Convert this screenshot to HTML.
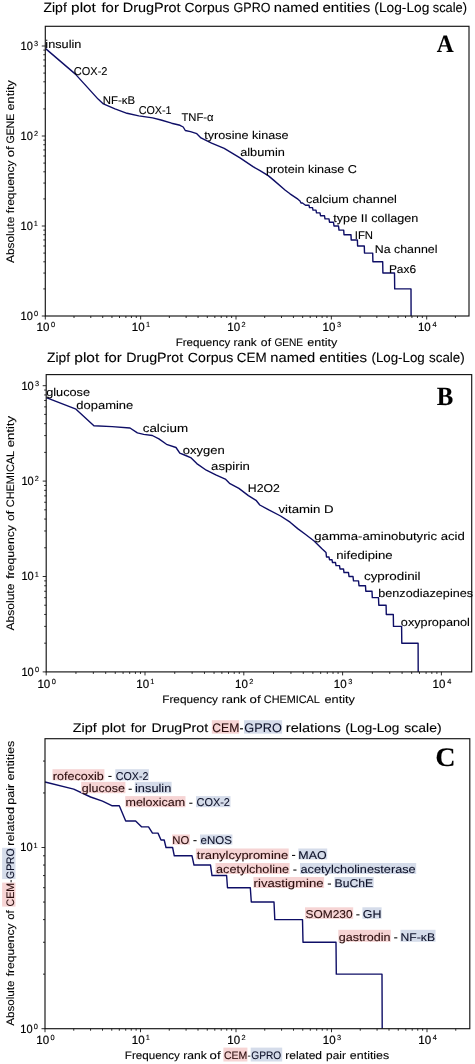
<!DOCTYPE html>
<html><head><meta charset="utf-8"><style>
html,body{margin:0;padding:0;background:#fff;}
body{width:475px;height:1064px;overflow:hidden;font-family:"Liberation Sans", sans-serif;}
svg{display:block;will-change:transform;}
</style></head><body>
<svg width="475" height="1064" viewBox="0 0 475 1064" text-rendering="geometricPrecision" font-family='"Liberation Sans", sans-serif'>
<rect width="475" height="1064" fill="#fff"/>
<text x="43.46" y="12.10" font-size="13.3" textLength="23.32" lengthAdjust="spacingAndGlyphs" fill="#000" stroke="#000" stroke-width="0.1">Zipf</text>
<text x="71.11" y="12.10" font-size="13.3" textLength="24.80" lengthAdjust="spacingAndGlyphs" fill="#000" stroke="#000" stroke-width="0.1">plot</text>
<text x="101.49" y="12.10" font-size="13.3" textLength="17.36" lengthAdjust="spacingAndGlyphs" fill="#000" stroke="#000" stroke-width="0.1">for</text>
<text x="122.82" y="12.10" font-size="13.3" textLength="57.79" lengthAdjust="spacingAndGlyphs" fill="#000" stroke="#000" stroke-width="0.1">DrugProt</text>
<text x="184.49" y="12.10" font-size="13.3" textLength="44.91" lengthAdjust="spacingAndGlyphs" fill="#000" stroke="#000" stroke-width="0.1">Corpus</text>
<text x="233.57" y="12.10" font-size="13.3" textLength="36.83" lengthAdjust="spacingAndGlyphs" fill="#000" stroke="#000" stroke-width="0.1">GPRO</text>
<text x="273.82" y="12.10" font-size="13.3" textLength="45.24" lengthAdjust="spacingAndGlyphs" fill="#000" stroke="#000" stroke-width="0.1">named</text>
<text x="322.46" y="12.10" font-size="13.3" textLength="47.79" lengthAdjust="spacingAndGlyphs" fill="#000" stroke="#000" stroke-width="0.1">entities</text>
<text x="374.35" y="12.10" font-size="13.3" textLength="55.04" lengthAdjust="spacingAndGlyphs" fill="#000" stroke="#000" stroke-width="0.1">(Log-Log</text>
<text x="432.74" y="12.10" font-size="13.3" textLength="34.25" lengthAdjust="spacingAndGlyphs" fill="#000" stroke="#000" stroke-width="0.1">scale)</text>
<path d="M45.30 316.00v3.5 M74.00 316.00v2 M90.79 316.00v2 M102.71 316.00v2 M111.95 316.00v2 M119.50 316.00v2 M125.88 316.00v2 M131.41 316.00v2 M136.29 316.00v2 M140.65 316.00v3.5 M169.35 316.00v2 M186.14 316.00v2 M198.06 316.00v2 M207.30 316.00v2 M214.85 316.00v2 M221.23 316.00v2 M226.76 316.00v2 M231.64 316.00v2 M236.00 316.00v3.5 M264.70 316.00v2 M281.49 316.00v2 M293.41 316.00v2 M302.65 316.00v2 M310.20 316.00v2 M316.58 316.00v2 M322.11 316.00v2 M326.99 316.00v2 M331.35 316.00v3.5 M360.05 316.00v2 M376.84 316.00v2 M388.76 316.00v2 M398.00 316.00v2 M405.55 316.00v2 M411.93 316.00v2 M417.46 316.00v2 M422.34 316.00v2 M426.70 316.00v3.5 M455.40 316.00v2" stroke="#141414" stroke-width="0.9" fill="none"/>
<path d="M45.30 316.00h-3.5 M45.30 288.91h-2 M45.30 273.06h-2 M45.30 261.81h-2 M45.30 253.09h-2 M45.30 245.97h-2 M45.30 239.94h-2 M45.30 234.72h-2 M45.30 230.12h-2 M45.30 226.00h-3.5 M45.30 198.91h-2 M45.30 183.06h-2 M45.30 171.81h-2 M45.30 163.09h-2 M45.30 155.97h-2 M45.30 149.94h-2 M45.30 144.72h-2 M45.30 140.12h-2 M45.30 136.00h-3.5 M45.30 108.91h-2 M45.30 93.06h-2 M45.30 81.81h-2 M45.30 73.09h-2 M45.30 65.97h-2 M45.30 59.94h-2 M45.30 54.72h-2 M45.30 50.12h-2 M45.30 46.00h-3.5" stroke="#141414" stroke-width="0.9" fill="none"/>
<text x="36.52" y="331.20" font-size="11.9" textLength="12.83" lengthAdjust="spacingAndGlyphs" fill="#000" stroke="#000" stroke-width="0.18">10</text>
<text x="50.91" y="327.00" font-size="7.4" fill="#000" stroke="#000" stroke-width="0.12">0</text>
<text x="131.87" y="331.20" font-size="11.9" textLength="12.83" lengthAdjust="spacingAndGlyphs" fill="#000" stroke="#000" stroke-width="0.18">10</text>
<text x="145.99" y="327.00" font-size="7.4" fill="#000" stroke="#000" stroke-width="0.12">1</text>
<text x="227.22" y="331.20" font-size="11.9" textLength="12.83" lengthAdjust="spacingAndGlyphs" fill="#000" stroke="#000" stroke-width="0.18">10</text>
<text x="241.53" y="327.00" font-size="7.4" fill="#000" stroke="#000" stroke-width="0.12">2</text>
<text x="322.57" y="331.20" font-size="11.9" textLength="12.83" lengthAdjust="spacingAndGlyphs" fill="#000" stroke="#000" stroke-width="0.18">10</text>
<text x="336.97" y="327.00" font-size="7.4" fill="#000" stroke="#000" stroke-width="0.12">3</text>
<text x="417.92" y="331.20" font-size="11.9" textLength="12.83" lengthAdjust="spacingAndGlyphs" fill="#000" stroke="#000" stroke-width="0.18">10</text>
<text x="432.43" y="327.00" font-size="7.4" fill="#000" stroke="#000" stroke-width="0.12">4</text>
<text x="20.56" y="319.90" font-size="11.9" textLength="12.27" lengthAdjust="spacingAndGlyphs" fill="#000" stroke="#000" stroke-width="0.18">10</text>
<text x="34.01" y="316.10" font-size="7.4" fill="#000" stroke="#000" stroke-width="0.12">0</text>
<text x="20.56" y="229.90" font-size="11.9" textLength="12.27" lengthAdjust="spacingAndGlyphs" fill="#000" stroke="#000" stroke-width="0.18">10</text>
<text x="33.74" y="226.10" font-size="7.4" fill="#000" stroke="#000" stroke-width="0.12">1</text>
<text x="20.56" y="139.90" font-size="11.9" textLength="12.27" lengthAdjust="spacingAndGlyphs" fill="#000" stroke="#000" stroke-width="0.18">10</text>
<text x="33.93" y="136.10" font-size="7.4" fill="#000" stroke="#000" stroke-width="0.12">2</text>
<text x="20.56" y="49.90" font-size="11.9" textLength="12.27" lengthAdjust="spacingAndGlyphs" fill="#000" stroke="#000" stroke-width="0.18">10</text>
<text x="34.02" y="46.10" font-size="7.4" fill="#000" stroke="#000" stroke-width="0.12">3</text>
<text x="175.65" y="345.80" font-size="10.9" textLength="54.57" lengthAdjust="spacingAndGlyphs" fill="#000" stroke="#000" stroke-width="0.1">Frequency</text>
<text x="233.61" y="345.80" font-size="10.9" textLength="23.17" lengthAdjust="spacingAndGlyphs" fill="#000" stroke="#000" stroke-width="0.1">rank</text>
<text x="260.89" y="345.80" font-size="10.9" textLength="10.20" lengthAdjust="spacingAndGlyphs" fill="#000" stroke="#000" stroke-width="0.1">of</text>
<text x="274.39" y="345.80" font-size="10.9" textLength="28.75" lengthAdjust="spacingAndGlyphs" fill="#000" stroke="#000" stroke-width="0.1">GENE</text>
<text x="307.26" y="345.80" font-size="10.9" textLength="30.16" lengthAdjust="spacingAndGlyphs" fill="#000" stroke="#000" stroke-width="0.1">entity</text>
<text transform="translate(13.90,262.90) rotate(-90)" x="-0.02" y="0" font-size="10.9" textLength="46.15" lengthAdjust="spacingAndGlyphs" fill="#000" stroke="#000" stroke-width="0.1">Absolute</text>
<text transform="translate(13.90,213.00) rotate(-90)" x="-0.17" y="0" font-size="10.9" textLength="52.59" lengthAdjust="spacingAndGlyphs" fill="#000" stroke="#000" stroke-width="0.1">frequency</text>
<text transform="translate(13.90,156.60) rotate(-90)" x="-0.55" y="0" font-size="10.9" textLength="10.83" lengthAdjust="spacingAndGlyphs" fill="#000" stroke="#000" stroke-width="0.1">of</text>
<text transform="translate(13.90,143.00) rotate(-90)" x="-0.53" y="0" font-size="10.9" textLength="29.88" lengthAdjust="spacingAndGlyphs" fill="#000" stroke="#000" stroke-width="0.1">GENE</text>
<text transform="translate(13.90,109.90) rotate(-90)" x="-0.54" y="0" font-size="10.9" textLength="30.26" lengthAdjust="spacingAndGlyphs" fill="#000" stroke="#000" stroke-width="0.1">entity</text>
<text x="436.77" y="51.70" font-size="25" textLength="16.90" lengthAdjust="spacingAndGlyphs" fill="#000" stroke="#000" stroke-width="0.1" font-family='"Liberation Serif", serif' font-weight="bold">A</text>
<polyline points="45.60,48.60 75.40,74.10 98.10,99.10 103.40,103.90 115.00,108.80 127.00,113.30 138.80,115.90 152.60,117.90 161.00,120.00 171.60,123.20 180.00,125.30 183.20,127.00 185.30,130.50 190.50,131.60 196.80,133.70 201.00,137.90 211.60,143.20 224.20,148.40 240.00,157.90 253.00,166.70 260.00,170.60 268.20,175.60 273.30,179.90 285.30,190.30 290.00,193.80 297.90,199.20 300.00,201.00 301.00,203.03 302.50,203.03 305.50,205.26 309.00,205.26 309.50,207.63 312.50,207.63 313.00,210.15 316.00,210.15 316.50,212.85 320.00,212.85 320.50,215.75 324.50,215.75 325.00,218.87 329.00,218.87 329.50,222.27 333.50,222.27 334.00,226.00 338.50,226.00 339.00,230.12 343.70,230.12 344.00,234.72 351.00,234.72 351.20,239.94 357.40,239.94 357.60,245.97 364.30,245.97 364.50,253.09 372.70,253.09 372.90,261.81 382.70,261.81 382.90,273.06 394.50,273.06 394.70,288.91 411.00,288.91 411.10,316.00 411.10,316.00" fill="none" stroke="#0e0e66" stroke-width="1.4" stroke-linejoin="round"/>
<rect x="45.3" y="26.3" width="423.7" height="289.7" fill="none" stroke="#141414" stroke-width="1.15"/>
<text x="45.35" y="48.10" font-size="11.3" textLength="36.08" lengthAdjust="spacingAndGlyphs" fill="#000" stroke="#000" stroke-width="0.1">insulin</text>
<text x="73.84" y="74.60" font-size="11.3" textLength="33.61" lengthAdjust="spacingAndGlyphs" fill="#000" stroke="#000" stroke-width="0.1">COX-2</text>
<text x="102.87" y="103.50" font-size="11.3" textLength="32.23" lengthAdjust="spacingAndGlyphs" fill="#000" stroke="#000" stroke-width="0.1">NF-κB</text>
<text x="138.65" y="114.40" font-size="11.3" textLength="32.87" lengthAdjust="spacingAndGlyphs" fill="#000" stroke="#000" stroke-width="0.1">COX-1</text>
<text x="181.45" y="121.40" font-size="11.3" textLength="32.18" lengthAdjust="spacingAndGlyphs" fill="#000" stroke="#000" stroke-width="0.1">TNF-α</text>
<text x="204.31" y="138.50" font-size="11.3" textLength="84.25" lengthAdjust="spacingAndGlyphs" fill="#000" stroke="#000" stroke-width="0.1">tyrosine kinase</text>
<text x="240.16" y="155.80" font-size="11.3" textLength="44.67" lengthAdjust="spacingAndGlyphs" fill="#000" stroke="#000" stroke-width="0.1">albumin</text>
<text x="265.99" y="173.40" font-size="11.3" textLength="90.99" lengthAdjust="spacingAndGlyphs" fill="#000" stroke="#000" stroke-width="0.1">protein kinase C</text>
<text x="305.96" y="203.00" font-size="11.3" textLength="90.89" lengthAdjust="spacingAndGlyphs" fill="#000" stroke="#000" stroke-width="0.1">calcium channel</text>
<text x="333.31" y="221.80" font-size="11.3" textLength="85.01" lengthAdjust="spacingAndGlyphs" fill="#000" stroke="#000" stroke-width="0.1">type II collagen</text>
<text x="354.75" y="239.40" font-size="11.3" textLength="18.27" lengthAdjust="spacingAndGlyphs" fill="#000" stroke="#000" stroke-width="0.1">IFN</text>
<text x="374.78" y="252.70" font-size="11.3" textLength="62.64" lengthAdjust="spacingAndGlyphs" fill="#000" stroke="#000" stroke-width="0.1">Na channel</text>
<text x="388.92" y="272.90" font-size="11.3" textLength="27.20" lengthAdjust="spacingAndGlyphs" fill="#000" stroke="#000" stroke-width="0.1">Pax6</text>
<text x="46.96" y="362.10" font-size="13.3" textLength="23.02" lengthAdjust="spacingAndGlyphs" fill="#000" stroke="#000" stroke-width="0.1">Zipf</text>
<text x="74.30" y="362.10" font-size="13.3" textLength="25.01" lengthAdjust="spacingAndGlyphs" fill="#000" stroke="#000" stroke-width="0.1">plot</text>
<text x="104.49" y="362.10" font-size="13.3" textLength="17.25" lengthAdjust="spacingAndGlyphs" fill="#000" stroke="#000" stroke-width="0.1">for</text>
<text x="126.23" y="362.10" font-size="13.3" textLength="56.97" lengthAdjust="spacingAndGlyphs" fill="#000" stroke="#000" stroke-width="0.1">DrugProt</text>
<text x="187.88" y="362.10" font-size="13.3" textLength="45.53" lengthAdjust="spacingAndGlyphs" fill="#000" stroke="#000" stroke-width="0.1">Corpus</text>
<text x="236.72" y="362.10" font-size="13.3" textLength="29.89" lengthAdjust="spacingAndGlyphs" fill="#000" stroke="#000" stroke-width="0.1">CEM</text>
<text x="270.32" y="362.10" font-size="13.3" textLength="44.92" lengthAdjust="spacingAndGlyphs" fill="#000" stroke="#000" stroke-width="0.1">named</text>
<text x="319.16" y="362.10" font-size="13.3" textLength="47.79" lengthAdjust="spacingAndGlyphs" fill="#000" stroke="#000" stroke-width="0.1">entities</text>
<text x="371.47" y="362.10" font-size="13.3" textLength="53.28" lengthAdjust="spacingAndGlyphs" fill="#000" stroke="#000" stroke-width="0.1">(Log-Log</text>
<text x="429.03" y="362.10" font-size="13.3" textLength="35.70" lengthAdjust="spacingAndGlyphs" fill="#000" stroke="#000" stroke-width="0.1">scale)</text>
<path d="M46.20 671.90v3.5 M75.94 671.90v2 M93.34 671.90v2 M105.68 671.90v2 M115.26 671.90v2 M123.08 671.90v2 M129.70 671.90v2 M135.43 671.90v2 M140.48 671.90v2 M145.00 671.90v3.5 M174.74 671.90v2 M192.14 671.90v2 M204.48 671.90v2 M214.06 671.90v2 M221.88 671.90v2 M228.50 671.90v2 M234.23 671.90v2 M239.28 671.90v2 M243.80 671.90v3.5 M273.54 671.90v2 M290.94 671.90v2 M303.28 671.90v2 M312.86 671.90v2 M320.68 671.90v2 M327.30 671.90v2 M333.03 671.90v2 M338.08 671.90v2 M342.60 671.90v3.5 M372.34 671.90v2 M389.74 671.90v2 M402.08 671.90v2 M411.66 671.90v2 M419.48 671.90v2 M426.10 671.90v2 M431.83 671.90v2 M436.88 671.90v2 M441.40 671.90v3.5" stroke="#141414" stroke-width="0.9" fill="none"/>
<path d="M46.20 671.90h-3.5 M46.20 643.18h-2 M46.20 626.38h-2 M46.20 614.46h-2 M46.20 605.22h-2 M46.20 597.66h-2 M46.20 591.28h-2 M46.20 585.75h-2 M46.20 580.87h-2 M46.20 576.50h-3.5 M46.20 547.78h-2 M46.20 530.98h-2 M46.20 519.06h-2 M46.20 509.82h-2 M46.20 502.26h-2 M46.20 495.88h-2 M46.20 490.35h-2 M46.20 485.47h-2 M46.20 481.10h-3.5 M46.20 452.38h-2 M46.20 435.58h-2 M46.20 423.66h-2 M46.20 414.42h-2 M46.20 406.86h-2 M46.20 400.48h-2 M46.20 394.95h-2 M46.20 390.07h-2 M46.20 385.70h-3.5" stroke="#141414" stroke-width="0.9" fill="none"/>
<text x="37.42" y="688.10" font-size="11.9" textLength="12.83" lengthAdjust="spacingAndGlyphs" fill="#000" stroke="#000" stroke-width="0.18">10</text>
<text x="51.81" y="683.90" font-size="7.4" fill="#000" stroke="#000" stroke-width="0.12">0</text>
<text x="136.22" y="688.10" font-size="11.9" textLength="12.83" lengthAdjust="spacingAndGlyphs" fill="#000" stroke="#000" stroke-width="0.18">10</text>
<text x="150.34" y="683.90" font-size="7.4" fill="#000" stroke="#000" stroke-width="0.12">1</text>
<text x="235.02" y="688.10" font-size="11.9" textLength="12.83" lengthAdjust="spacingAndGlyphs" fill="#000" stroke="#000" stroke-width="0.18">10</text>
<text x="249.33" y="683.90" font-size="7.4" fill="#000" stroke="#000" stroke-width="0.12">2</text>
<text x="333.82" y="688.10" font-size="11.9" textLength="12.83" lengthAdjust="spacingAndGlyphs" fill="#000" stroke="#000" stroke-width="0.18">10</text>
<text x="348.22" y="683.90" font-size="7.4" fill="#000" stroke="#000" stroke-width="0.12">3</text>
<text x="432.62" y="688.10" font-size="11.9" textLength="12.83" lengthAdjust="spacingAndGlyphs" fill="#000" stroke="#000" stroke-width="0.18">10</text>
<text x="447.13" y="683.90" font-size="7.4" fill="#000" stroke="#000" stroke-width="0.12">4</text>
<text x="21.46" y="675.80" font-size="11.9" textLength="12.27" lengthAdjust="spacingAndGlyphs" fill="#000" stroke="#000" stroke-width="0.18">10</text>
<text x="34.91" y="672.00" font-size="7.4" fill="#000" stroke="#000" stroke-width="0.12">0</text>
<text x="21.46" y="580.40" font-size="11.9" textLength="12.27" lengthAdjust="spacingAndGlyphs" fill="#000" stroke="#000" stroke-width="0.18">10</text>
<text x="34.64" y="576.60" font-size="7.4" fill="#000" stroke="#000" stroke-width="0.12">1</text>
<text x="21.46" y="485.00" font-size="11.9" textLength="12.27" lengthAdjust="spacingAndGlyphs" fill="#000" stroke="#000" stroke-width="0.18">10</text>
<text x="34.83" y="481.20" font-size="7.4" fill="#000" stroke="#000" stroke-width="0.12">2</text>
<text x="21.46" y="389.60" font-size="11.9" textLength="12.27" lengthAdjust="spacingAndGlyphs" fill="#000" stroke="#000" stroke-width="0.18">10</text>
<text x="34.92" y="385.80" font-size="7.4" fill="#000" stroke="#000" stroke-width="0.12">3</text>
<text x="162.23" y="702.90" font-size="10.9" textLength="55.79" lengthAdjust="spacingAndGlyphs" fill="#000" stroke="#000" stroke-width="0.1">Frequency</text>
<text x="221.87" y="702.90" font-size="10.9" textLength="24.42" lengthAdjust="spacingAndGlyphs" fill="#000" stroke="#000" stroke-width="0.1">rank</text>
<text x="249.54" y="702.90" font-size="10.9" textLength="11.04" lengthAdjust="spacingAndGlyphs" fill="#000" stroke="#000" stroke-width="0.1">of</text>
<text x="263.85" y="702.90" font-size="10.9" textLength="56.01" lengthAdjust="spacingAndGlyphs" fill="#000" stroke="#000" stroke-width="0.1">CHEMICAL</text>
<text x="324.46" y="702.90" font-size="10.9" textLength="30.47" lengthAdjust="spacingAndGlyphs" fill="#000" stroke="#000" stroke-width="0.1">entity</text>
<text transform="translate(14.20,630.50) rotate(-90)" x="-0.02" y="0" font-size="10.9" textLength="46.96" lengthAdjust="spacingAndGlyphs" fill="#000" stroke="#000" stroke-width="0.1">Absolute</text>
<text transform="translate(14.20,578.60) rotate(-90)" x="-0.17" y="0" font-size="10.9" textLength="53.70" lengthAdjust="spacingAndGlyphs" fill="#000" stroke="#000" stroke-width="0.1">frequency</text>
<text transform="translate(14.20,520.60) rotate(-90)" x="-0.51" y="0" font-size="10.9" textLength="10.20" lengthAdjust="spacingAndGlyphs" fill="#000" stroke="#000" stroke-width="0.1">of</text>
<text transform="translate(14.20,506.70) rotate(-90)" x="-0.55" y="0" font-size="10.9" textLength="56.42" lengthAdjust="spacingAndGlyphs" fill="#000" stroke="#000" stroke-width="0.1">CHEMICAL</text>
<text transform="translate(14.20,446.70) rotate(-90)" x="-0.55" y="0" font-size="10.9" textLength="31.18" lengthAdjust="spacingAndGlyphs" fill="#000" stroke="#000" stroke-width="0.1">entity</text>
<text x="436.69" y="404.80" font-size="26.3" textLength="16.50" lengthAdjust="spacingAndGlyphs" fill="#000" stroke="#000" stroke-width="0.1" font-family='"Liberation Serif", serif' font-weight="bold">B</text>
<polyline points="46.30,397.60 49.50,398.90 76.00,409.20 93.90,425.80 112.10,426.60 130.00,428.00 137.40,432.90 143.70,434.40 152.30,435.50 158.90,438.90 166.50,444.30 176.00,447.50 179.80,453.20 184.50,455.00 191.20,457.90 196.80,463.60 206.30,470.20 215.80,474.90 225.30,479.10 229.50,483.30 238.90,488.40 248.40,495.60 256.00,500.30 259.80,505.00 269.30,510.20 280.60,516.00 290.10,522.20 297.70,528.60 305.30,534.30 314.10,541.00 321.70,548.50 326.00,552.50 326.50,557.03 329.00,557.03 329.50,559.70 332.00,559.70 332.50,562.56 335.50,562.56 336.00,565.63 339.50,565.63 340.00,568.95 343.50,568.95 344.00,572.55 348.50,572.55 349.00,576.50 353.00,576.50 353.50,580.87 358.50,580.87 359.00,585.75 365.50,585.75 365.80,591.28 372.00,591.28 372.30,597.66 378.50,597.66 378.80,605.22 386.10,605.22 386.30,614.46 393.30,614.46 393.50,626.38 401.60,626.38 401.80,643.18 418.10,643.18 418.20,671.90 418.20,671.90" fill="none" stroke="#0e0e66" stroke-width="1.4" stroke-linejoin="round"/>
<rect x="46.2" y="374.6" width="425.5" height="297.29999999999995" fill="none" stroke="#141414" stroke-width="1.15"/>
<text x="46.17" y="396.30" font-size="11.3" textLength="43.90" lengthAdjust="spacingAndGlyphs" fill="#000" stroke="#000" stroke-width="0.1">glucose</text>
<text x="76.36" y="409.40" font-size="11.3" textLength="56.92" lengthAdjust="spacingAndGlyphs" fill="#000" stroke="#000" stroke-width="0.1">dopamine</text>
<text x="142.73" y="432.40" font-size="11.3" textLength="45.35" lengthAdjust="spacingAndGlyphs" fill="#000" stroke="#000" stroke-width="0.1">calcium</text>
<text x="182.75" y="453.50" font-size="11.3" textLength="41.99" lengthAdjust="spacingAndGlyphs" fill="#000" stroke="#000" stroke-width="0.1">oxygen</text>
<text x="211.14" y="470.00" font-size="11.3" textLength="38.82" lengthAdjust="spacingAndGlyphs" fill="#000" stroke="#000" stroke-width="0.1">aspirin</text>
<text x="247.79" y="491.60" font-size="11.3" textLength="32.02" lengthAdjust="spacingAndGlyphs" fill="#000" stroke="#000" stroke-width="0.1">H2O2</text>
<text x="278.45" y="513.10" font-size="11.3" textLength="55.18" lengthAdjust="spacingAndGlyphs" fill="#000" stroke="#000" stroke-width="0.1">vitamin D</text>
<text x="314.25" y="540.10" font-size="11.3" textLength="150.60" lengthAdjust="spacingAndGlyphs" fill="#000" stroke="#000" stroke-width="0.1">gamma-aminobutyric acid</text>
<text x="336.22" y="559.40" font-size="11.3" textLength="56.46" lengthAdjust="spacingAndGlyphs" fill="#000" stroke="#000" stroke-width="0.1">nifedipine</text>
<text x="363.93" y="580.20" font-size="11.3" textLength="56.67" lengthAdjust="spacingAndGlyphs" fill="#000" stroke="#000" stroke-width="0.1">cyprodinil</text>
<text x="378.29" y="597.40" font-size="11.3" textLength="94.77" lengthAdjust="spacingAndGlyphs" fill="#000" stroke="#000" stroke-width="0.1">benzodiazepines</text>
<text x="400.87" y="626.20" font-size="11.3" textLength="69.08" lengthAdjust="spacingAndGlyphs" fill="#000" stroke="#000" stroke-width="0.1">oxypropanol</text>
<rect x="211.8" y="720.2" width="27.4" height="13.4" fill="#f6d4d4"/>
<rect x="244.0" y="720.2" width="38.1" height="13.4" fill="#d5dcea"/>
<text x="72.74" y="731.60" font-size="12.5" textLength="24.04" lengthAdjust="spacingAndGlyphs" fill="#000" stroke="#000" stroke-width="0.1">Zipf</text>
<text x="101.54" y="731.60" font-size="12.5" textLength="23.97" lengthAdjust="spacingAndGlyphs" fill="#000" stroke="#000" stroke-width="0.1">plot</text>
<text x="130.71" y="731.60" font-size="12.5" textLength="15.61" lengthAdjust="spacingAndGlyphs" fill="#000" stroke="#000" stroke-width="0.1">for</text>
<text x="151.44" y="731.60" font-size="12.5" textLength="56.67" lengthAdjust="spacingAndGlyphs" fill="#000" stroke="#000" stroke-width="0.1">DrugProt</text>
<text x="212.28" y="731.60" font-size="12.5" textLength="27.01" lengthAdjust="spacingAndGlyphs" fill="#2a0c0c" stroke="#2a0c0c" stroke-width="0.1">CEM</text>
<text x="239.47" y="731.60" font-size="12.5" textLength="3.96" lengthAdjust="spacingAndGlyphs" fill="#000" stroke="#000" stroke-width="0.1">-</text>
<text x="244.36" y="731.60" font-size="12.5" textLength="37.45" lengthAdjust="spacingAndGlyphs" fill="#0c1028" stroke="#0c1028" stroke-width="0.1">GPRO</text>
<text x="285.83" y="731.60" font-size="12.5" textLength="54.99" lengthAdjust="spacingAndGlyphs" fill="#000" stroke="#000" stroke-width="0.1">relations</text>
<text x="345.16" y="731.60" font-size="12.5" textLength="54.11" lengthAdjust="spacingAndGlyphs" fill="#000" stroke="#000" stroke-width="0.1">(Log-Log</text>
<text x="404.31" y="731.60" font-size="12.5" textLength="37.25" lengthAdjust="spacingAndGlyphs" fill="#000" stroke="#000" stroke-width="0.1">scale)</text>
<path d="M45.00 1028.70v3.5 M73.75 1028.70v2 M90.57 1028.70v2 M102.50 1028.70v2 M111.75 1028.70v2 M119.31 1028.70v2 M125.71 1028.70v2 M131.25 1028.70v2 M136.13 1028.70v2 M140.50 1028.70v3.5 M169.25 1028.70v2 M186.07 1028.70v2 M198.00 1028.70v2 M207.25 1028.70v2 M214.81 1028.70v2 M221.21 1028.70v2 M226.75 1028.70v2 M231.63 1028.70v2 M236.00 1028.70v3.5 M264.75 1028.70v2 M281.57 1028.70v2 M293.50 1028.70v2 M302.75 1028.70v2 M310.31 1028.70v2 M316.71 1028.70v2 M322.25 1028.70v2 M327.13 1028.70v2 M331.50 1028.70v3.5 M360.25 1028.70v2 M377.07 1028.70v2 M389.00 1028.70v2 M398.25 1028.70v2 M405.81 1028.70v2 M412.21 1028.70v2 M417.75 1028.70v2 M422.63 1028.70v2 M427.00 1028.70v3.5 M455.75 1028.70v2" stroke="#141414" stroke-width="0.9" fill="none"/>
<path d="M45.00 1028.70h-3.5 M45.00 974.15h-2 M45.00 942.25h-2 M45.00 919.61h-2 M45.00 902.05h-2 M45.00 887.70h-2 M45.00 875.57h-2 M45.00 865.06h-2 M45.00 855.79h-2 M45.00 847.50h-3.5 M45.00 792.95h-2 M45.00 761.05h-2" stroke="#141414" stroke-width="0.9" fill="none"/>
<text x="36.22" y="1044.10" font-size="11.9" textLength="12.83" lengthAdjust="spacingAndGlyphs" fill="#000" stroke="#000" stroke-width="0.18">10</text>
<text x="50.61" y="1039.90" font-size="7.4" fill="#000" stroke="#000" stroke-width="0.12">0</text>
<text x="131.72" y="1044.10" font-size="11.9" textLength="12.83" lengthAdjust="spacingAndGlyphs" fill="#000" stroke="#000" stroke-width="0.18">10</text>
<text x="145.84" y="1039.90" font-size="7.4" fill="#000" stroke="#000" stroke-width="0.12">1</text>
<text x="227.22" y="1044.10" font-size="11.9" textLength="12.83" lengthAdjust="spacingAndGlyphs" fill="#000" stroke="#000" stroke-width="0.18">10</text>
<text x="241.53" y="1039.90" font-size="7.4" fill="#000" stroke="#000" stroke-width="0.12">2</text>
<text x="322.72" y="1044.10" font-size="11.9" textLength="12.83" lengthAdjust="spacingAndGlyphs" fill="#000" stroke="#000" stroke-width="0.18">10</text>
<text x="337.12" y="1039.90" font-size="7.4" fill="#000" stroke="#000" stroke-width="0.12">3</text>
<text x="418.22" y="1044.10" font-size="11.9" textLength="12.83" lengthAdjust="spacingAndGlyphs" fill="#000" stroke="#000" stroke-width="0.18">10</text>
<text x="432.73" y="1039.90" font-size="7.4" fill="#000" stroke="#000" stroke-width="0.12">4</text>
<text x="20.26" y="1032.60" font-size="11.9" textLength="12.27" lengthAdjust="spacingAndGlyphs" fill="#000" stroke="#000" stroke-width="0.18">10</text>
<text x="33.71" y="1028.80" font-size="7.4" fill="#000" stroke="#000" stroke-width="0.12">0</text>
<text x="20.26" y="851.40" font-size="11.9" textLength="12.27" lengthAdjust="spacingAndGlyphs" fill="#000" stroke="#000" stroke-width="0.18">10</text>
<text x="33.44" y="847.60" font-size="7.4" fill="#000" stroke="#000" stroke-width="0.12">1</text>
<rect x="223.4" y="1047.6" width="24.0" height="13.9" fill="#f6d4d4"/>
<rect x="250.7" y="1047.6" width="31.5" height="13.9" fill="#d5dcea"/>
<text x="124.85" y="1059.00" font-size="10.9" textLength="54.98" lengthAdjust="spacingAndGlyphs" fill="#000" stroke="#000" stroke-width="0.1">Frequency</text>
<text x="183.19" y="1059.00" font-size="10.9" textLength="23.59" lengthAdjust="spacingAndGlyphs" fill="#000" stroke="#000" stroke-width="0.1">rank</text>
<text x="209.64" y="1059.00" font-size="10.9" textLength="11.04" lengthAdjust="spacingAndGlyphs" fill="#000" stroke="#000" stroke-width="0.1">of</text>
<text x="223.97" y="1059.00" font-size="10.9" textLength="23.40" lengthAdjust="spacingAndGlyphs" fill="#2a0c0c" stroke="#2a0c0c" stroke-width="0.1">CEM</text>
<text x="247.48" y="1059.00" font-size="10.9" textLength="3.14" lengthAdjust="spacingAndGlyphs" fill="#000" stroke="#000" stroke-width="0.1">-</text>
<text x="251.29" y="1059.00" font-size="10.9" textLength="30.00" lengthAdjust="spacingAndGlyphs" fill="#0c1028" stroke="#0c1028" stroke-width="0.1">GPRO</text>
<text x="285.20" y="1059.00" font-size="10.9" textLength="36.88" lengthAdjust="spacingAndGlyphs" fill="#000" stroke="#000" stroke-width="0.1">related</text>
<text x="326.03" y="1059.00" font-size="10.9" textLength="19.87" lengthAdjust="spacingAndGlyphs" fill="#000" stroke="#000" stroke-width="0.1">pair</text>
<text x="349.87" y="1059.00" font-size="10.9" textLength="39.38" lengthAdjust="spacingAndGlyphs" fill="#000" stroke="#000" stroke-width="0.1">entities</text>
<rect x="2.1" y="882.6" width="13.4" height="24.0" fill="#f6d4d4"/>
<rect x="2.1" y="847.8" width="13.4" height="31.3" fill="#d5dcea"/>
<text transform="translate(13.80,1025.80) rotate(-90)" x="-0.02" y="0" font-size="10.9" textLength="45.34" lengthAdjust="spacingAndGlyphs" fill="#000" stroke="#000" stroke-width="0.1">Absolute</text>
<text transform="translate(13.80,976.10) rotate(-90)" x="-0.17" y="0" font-size="10.9" textLength="52.69" lengthAdjust="spacingAndGlyphs" fill="#000" stroke="#000" stroke-width="0.1">frequency</text>
<text transform="translate(13.80,919.40) rotate(-90)" x="-0.48" y="0" font-size="10.9" textLength="9.46" lengthAdjust="spacingAndGlyphs" fill="#000" stroke="#000" stroke-width="0.1">of</text>
<text transform="translate(13.80,905.90) rotate(-90)" x="-0.54" y="0" font-size="10.9" textLength="23.61" lengthAdjust="spacingAndGlyphs" fill="#2a0c0c" stroke="#2a0c0c" stroke-width="0.1">CEM</text>
<text transform="translate(13.80,882.30) rotate(-90)" x="-0.44" y="0" font-size="10.9" textLength="3.27" lengthAdjust="spacingAndGlyphs" fill="#000" stroke="#000" stroke-width="0.1">-</text>
<text transform="translate(13.80,878.40) rotate(-90)" x="-0.52" y="0" font-size="10.9" textLength="30.62" lengthAdjust="spacingAndGlyphs" fill="#0c1028" stroke="#0c1028" stroke-width="0.1">GPRO</text>
<text transform="translate(13.80,844.80) rotate(-90)" x="-0.84" y="0" font-size="10.9" textLength="38.65" lengthAdjust="spacingAndGlyphs" fill="#000" stroke="#000" stroke-width="0.1">related</text>
<text transform="translate(13.80,804.00) rotate(-90)" x="-0.81" y="0" font-size="10.9" textLength="21.02" lengthAdjust="spacingAndGlyphs" fill="#000" stroke="#000" stroke-width="0.1">pair</text>
<text transform="translate(13.80,780.00) rotate(-90)" x="-0.53" y="0" font-size="10.9" textLength="39.79" lengthAdjust="spacingAndGlyphs" fill="#000" stroke="#000" stroke-width="0.1">entities</text>
<text x="435.33" y="766.00" font-size="26.8" textLength="20.32" lengthAdjust="spacingAndGlyphs" fill="#000" stroke="#000" stroke-width="0.1" font-family='"Liberation Serif", serif' font-weight="bold">C</text>
<polyline points="45.00,782.00 73.70,789.10 90.60,797.00 102.50,801.20 111.80,805.74 119.30,805.74 125.70,821.02 135.60,821.02 141.50,826.85 148.50,826.85 152.50,833.15 158.00,833.15 161.00,840.00 164.20,840.00 166.00,847.50 172.60,847.50 174.30,855.79 192.00,855.79 194.00,865.06 210.50,865.06 212.00,875.57 226.60,875.57 227.50,887.70 250.30,887.70 251.30,902.05 274.00,902.05 274.80,919.61 302.50,919.61 303.00,942.25 336.00,942.25 336.30,974.15 382.00,974.15 382.20,1028.70 382.20,1028.70" fill="none" stroke="#0e0e66" stroke-width="1.4" stroke-linejoin="round"/>
<rect x="45.0" y="738.7" width="424.8" height="290.0" fill="none" stroke="#141414" stroke-width="1.15"/>
<rect x="52.50" y="769.20" width="51.90" height="11.20" fill="#f6d4d4"/>
<rect x="115.30" y="769.20" width="33.60" height="11.20" fill="#d5dcea"/>
<text x="52.76" y="779.50" font-size="11.3" textLength="51.06" lengthAdjust="spacingAndGlyphs" fill="#2a0c0c" stroke="#2a0c0c" stroke-width="0.1">rofecoxib</text>
<text x="115.86" y="779.50" font-size="11.3" textLength="32.47" lengthAdjust="spacingAndGlyphs" fill="#0c1028" stroke="#0c1028" stroke-width="0.1">COX-2</text>
<rect x="108.35" y="775.90" width="3.2" height="1.1" fill="#111"/>
<rect x="81.20" y="781.80" width="44.20" height="11.40" fill="#f6d4d4"/>
<rect x="134.80" y="781.80" width="36.80" height="11.40" fill="#d5dcea"/>
<text x="81.78" y="792.30" font-size="11.3" textLength="43.08" lengthAdjust="spacingAndGlyphs" fill="#2a0c0c" stroke="#2a0c0c" stroke-width="0.1">glucose</text>
<text x="135.04" y="792.30" font-size="11.3" textLength="36.29" lengthAdjust="spacingAndGlyphs" fill="#0c1028" stroke="#0c1028" stroke-width="0.1">insulin</text>
<rect x="128.60" y="788.70" width="3.2" height="1.1" fill="#111"/>
<rect x="125.20" y="796.10" width="60.30" height="11.10" fill="#f6d4d4"/>
<rect x="196.00" y="796.10" width="34.50" height="11.10" fill="#d5dcea"/>
<text x="125.47" y="806.30" font-size="11.3" textLength="59.75" lengthAdjust="spacingAndGlyphs" fill="#2a0c0c" stroke="#2a0c0c" stroke-width="0.1">meloxicam</text>
<text x="196.54" y="806.30" font-size="11.3" textLength="33.40" lengthAdjust="spacingAndGlyphs" fill="#0c1028" stroke="#0c1028" stroke-width="0.1">COX-2</text>
<rect x="189.25" y="802.70" width="3.2" height="1.1" fill="#111"/>
<rect x="172.10" y="834.50" width="17.70" height="10.10" fill="#f6d4d4"/>
<rect x="200.00" y="834.50" width="32.40" height="10.10" fill="#d5dcea"/>
<text x="172.27" y="843.70" font-size="11.3" textLength="16.97" lengthAdjust="spacingAndGlyphs" fill="#2a0c0c" stroke="#2a0c0c" stroke-width="0.1">NO</text>
<text x="200.61" y="843.70" font-size="11.3" textLength="31.21" lengthAdjust="spacingAndGlyphs" fill="#0c1028" stroke="#0c1028" stroke-width="0.1">eNOS</text>
<rect x="193.40" y="840.10" width="3.2" height="1.1" fill="#111"/>
<rect x="195.90" y="848.50" width="92.80" height="10.90" fill="#f6d4d4"/>
<rect x="298.30" y="848.50" width="28.90" height="10.90" fill="#d5dcea"/>
<text x="196.80" y="858.50" font-size="11.3" textLength="91.37" lengthAdjust="spacingAndGlyphs" fill="#2a0c0c" stroke="#2a0c0c" stroke-width="0.1">tranylcypromine</text>
<text x="298.38" y="858.50" font-size="11.3" textLength="28.31" lengthAdjust="spacingAndGlyphs" fill="#0c1028" stroke="#0c1028" stroke-width="0.1">MAO</text>
<rect x="292.00" y="854.90" width="3.2" height="1.1" fill="#111"/>
<rect x="215.50" y="863.00" width="74.10" height="11.00" fill="#f6d4d4"/>
<rect x="300.00" y="863.00" width="116.20" height="11.00" fill="#d5dcea"/>
<text x="216.06" y="873.10" font-size="11.3" textLength="73.00" lengthAdjust="spacingAndGlyphs" fill="#2a0c0c" stroke="#2a0c0c" stroke-width="0.1">acetylcholine</text>
<text x="300.56" y="873.10" font-size="11.3" textLength="115.10" lengthAdjust="spacingAndGlyphs" fill="#0c1028" stroke="#0c1028" stroke-width="0.1">acetylcholinesterase</text>
<rect x="293.30" y="869.50" width="3.2" height="1.1" fill="#111"/>
<rect x="253.40" y="877.00" width="70.70" height="11.00" fill="#f6d4d4"/>
<rect x="334.50" y="877.00" width="39.20" height="11.00" fill="#d5dcea"/>
<text x="253.63" y="887.10" font-size="11.3" textLength="69.95" lengthAdjust="spacingAndGlyphs" fill="#2a0c0c" stroke="#2a0c0c" stroke-width="0.1">rivastigmine</text>
<text x="334.60" y="887.10" font-size="11.3" textLength="38.52" lengthAdjust="spacingAndGlyphs" fill="#0c1028" stroke="#0c1028" stroke-width="0.1">BuChE</text>
<rect x="327.80" y="883.50" width="3.2" height="1.1" fill="#111"/>
<rect x="305.00" y="907.30" width="48.20" height="11.50" fill="#f6d4d4"/>
<rect x="362.40" y="907.30" width="19.20" height="11.50" fill="#d5dcea"/>
<text x="305.56" y="917.90" font-size="11.3" textLength="47.01" lengthAdjust="spacingAndGlyphs" fill="#2a0c0c" stroke="#2a0c0c" stroke-width="0.1">SOM230</text>
<text x="362.88" y="917.90" font-size="11.3" textLength="18.64" lengthAdjust="spacingAndGlyphs" fill="#0c1028" stroke="#0c1028" stroke-width="0.1">GH</text>
<rect x="356.30" y="914.30" width="3.2" height="1.1" fill="#111"/>
<rect x="338.30" y="929.80" width="52.50" height="12.00" fill="#f6d4d4"/>
<rect x="400.50" y="929.80" width="35.00" height="12.00" fill="#d5dcea"/>
<text x="338.87" y="940.90" font-size="11.3" textLength="51.64" lengthAdjust="spacingAndGlyphs" fill="#2a0c0c" stroke="#2a0c0c" stroke-width="0.1">gastrodin</text>
<text x="400.60" y="940.90" font-size="11.3" textLength="34.44" lengthAdjust="spacingAndGlyphs" fill="#0c1028" stroke="#0c1028" stroke-width="0.1">NF-κB</text>
<rect x="394.15" y="937.30" width="3.2" height="1.1" fill="#111"/>
</svg>
</body></html>
